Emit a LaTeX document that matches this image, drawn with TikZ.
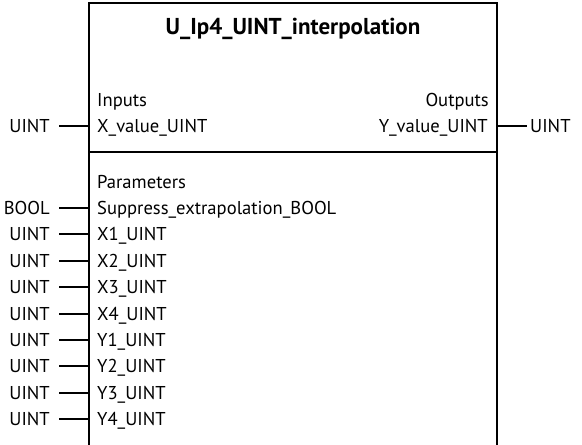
\documentclass[tikz,border=0pt]{standalone}
\usepackage{fontspec}
\setmainfont{PT Sans}
\begin{document}
\begin{tikzpicture}[x=1pt,y=-1pt,
  lbl/.style={inner xsep=8pt,inner ysep=0pt,text height=16pt,text depth=3pt,font=\fontsize{18.6}{22}\selectfont},
  outer/.style={lbl,inner xsep=9pt},
  stub/.style={line width=2pt},
  frame/.style={line width=2.6pt}]
\useasboundingbox (0,0) rectangle (582,445);
% block frame
\draw[frame] (89,445) -- (89,3) -- (497,3) -- (497,445);
\draw[frame] (89,152) -- (497,152);
\node[font=\fontsize{23}{26}\selectfont\bfseries] (title) at (293,29) {U\_Ip4\_UINT\_interpolation};
% inputs / outputs
\node[lbl,anchor=west] (inh) at (89,99.6) {Inputs};
\node[lbl,anchor=east] (outh) at (497,99.6) {Outputs};
\node[lbl,anchor=west] (xin) at (89,126) {X\_value\_UINT};
\node[outer,anchor=east] (xint) at (59,126) {UINT};
\draw[stub] (xint.east) -- (xin.west);
\node[lbl,anchor=east,inner xsep=9pt] (yout) at (497,126) {Y\_value\_UINT};
\node[lbl,anchor=west,inner xsep=3pt] (youtt) at (527,126) {UINT};
\draw[stub] (yout.east) -- (youtt.west);
% parameters
\node[lbl,anchor=west] (parh) at (89,181.6) {Parameters};
\foreach \n/\t/\ty [count=\i from 0] in {sup/Suppress\_extrapolation\_BOOL/BOOL,
  xa/X1\_UINT/UINT, xb/X2\_UINT/UINT, xc/X3\_UINT/UINT, xd/X4\_UINT/UINT,
  ya/Y1\_UINT/UINT, yb/Y2\_UINT/UINT, yc/Y3\_UINT/UINT, yd/Y4\_UINT/UINT}{
  \node[lbl,anchor=west] (\n) at (89,208+26.4*\i) {\t};
  \node[outer,anchor=east] (\n t) at (59,208+26.4*\i) {\ty};
  \draw[stub] (\n t.east) -- (\n.west);
}
\end{tikzpicture}
\end{document}
